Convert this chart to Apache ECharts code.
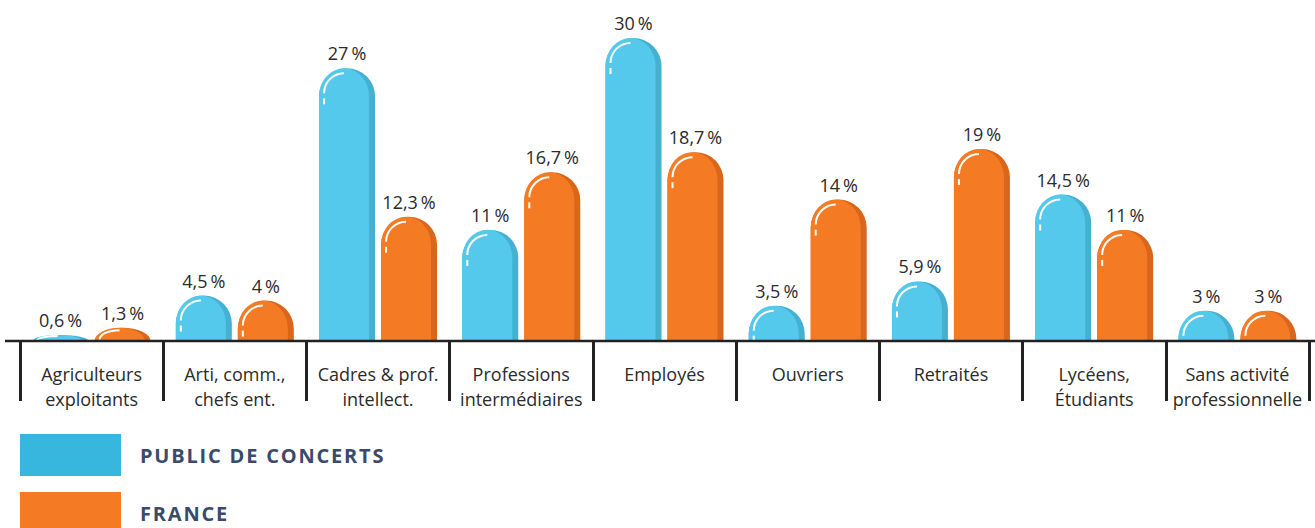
<!DOCTYPE html>
<html>
<head>
<meta charset="utf-8">
<style>
  html, body { margin: 0; padding: 0; background: #ffffff; }
  #chart { width: 1315px; height: 528px; }
</style>
<script src="https://cdn.jsdelivr.net/npm/echarts@6/dist/echarts.min.js"></script>
</head>
<body>
<div id="chart"></div>
<script>
// Catégories socioprofessionnelles
const categories = [
  'Agriculteurs\nexploitants',
  'Arti, comm.,\nchefs ent.',
  'Cadres & prof.\nintellect.',
  'Professions\nintermédiaires',
  'Employés',
  'Ouvriers',
  'Retraités',
  'Lycéens,\nÉtudiants',
  'Sans activité\nprofessionnelle'
];
const seriesNames = ['PUBLIC DE CONCERTS', 'FRANCE'];
// Parts en %
const publicConcerts = [0.6, 4.5, 27, 11, 30, 3.5, 5.9, 14.5, 3];
const france = [1.3, 4, 12.3, 16.7, 18.7, 14, 19, 11, 3];

const BAR_W = 56;
const BAR_OFFSET = 31;
const SHADE_W = 6;
const TEXT_FONT = '"Open Sans", Lato, sans-serif';

function fmt(v) {
  return String(v).replace('.', ',') + '\u2009%';
}

// Draws a rounded "pill" bar with a darker right edge and a white gloss arc
function pillRenderer(side, body, shade) {
  return function (params, api) {
    const idx = api.value(0);
    const v = api.value(1);
    const base = api.coord([idx, 0]);
    const topP = api.coord([idx, v]);
    const cx = base[0] + side * BAR_OFFSET;
    const x0 = cx - BAR_W / 2;
    const yb = base[1];
    const yt = topP[1];
    const h = yb - yt;
    const rx = BAR_W / 2;
    const ry = Math.min(h, rx);
    const w2 = BAR_W - SHADE_W;
    const outer = `M${x0},${yb} L${x0},${yt + ry} A${rx},${ry} 0 0 1 ${x0 + BAR_W},${yt + ry} L${x0 + BAR_W},${yb} Z`;
    const inner = `M${x0},${yb} L${x0},${yt + ry} A${w2 / 2},${ry} 0 0 1 ${x0 + w2},${yt + ry} L${x0 + w2},${yb} Z`;
    const k = ry / rx;
    const hcx = x0 + 25;
    const hcy = yt + 25 * k;
    const hry = 20 * k;
    const gloss = `M${hcx - 20},${hcy} A20,${hry} 0 0 1 ${hcx},${hcy - hry}`;
    const children = [
      { type: 'path', shape: { pathData: outer }, style: { fill: shade } },
      { type: 'path', shape: { pathData: inner }, style: { fill: body } },
      { type: 'path', shape: { pathData: gloss }, style: { fill: null, stroke: '#ffffff', lineWidth: 2 } }
    ];
    if (yt + 30 < yb - 1) {
      children.push({
        type: 'line',
        shape: { x1: x0 + 5, y1: yt + 30, x2: x0 + 5, y2: Math.min(yt + 36, yb - 1) },
        style: { stroke: '#ffffff', lineWidth: 2 }
      });
    }
    children.push({
      type: 'text',
      style: {
        x: cx, y: yt - 6, text: fmt(v),
        align: 'center', verticalAlign: 'bottom',
        font: '18px ' + TEXT_FONT,
        fill: '#2b2b2b'
      }
    });
    return { type: 'group', children: children };
  };
}

function legendBlock(name, color, top) {
  return {
    orient: 'vertical',
    left: 20,
    top: top,
    padding: 0,
    itemWidth: 101,
    itemHeight: 42,
    icon: 'rect',
    selectedMode: false,
    data: [{ name: name, itemStyle: { color: color } }],
    textStyle: {
      fontFamily: TEXT_FONT,
      fontWeight: 'bold',
      fontSize: 20,
      color: '#3b4a6b',
      padding: [0, 0, 0, 14]
    }
  };
}

const chart = echarts.init(document.getElementById('chart'), null, { renderer: 'svg' });
chart.setOption({
  animation: false,
  grid: { left: 20, right: 6, top: 38, bottom: 187 },
  legend: [
    legendBlock(seriesNames[0], '#37b7de', 434),
    legendBlock(seriesNames[1], '#f47b24', 492)
  ],
  xAxis: {
    type: 'category',
    data: categories,
    axisLine: { show: false },
    axisTick: { show: true, length: 60, interval: 0, lineStyle: { color: '#222222', width: 3 } },
    axisLabel: {
      interval: 0,
      margin: 20,
      fontFamily: TEXT_FONT,
      fontSize: 18,
      lineHeight: 25,
      color: '#2b2b2b'
    }
  },
  yAxis: {
    type: 'value',
    min: 0,
    max: 30,
    show: false
  },
  series: [
    {
      name: seriesNames[0],
      type: 'custom',
      itemStyle: { color: '#37b7de' },
      renderItem: pillRenderer(-1, '#55c9ec', '#46b0d0'),
      data: publicConcerts.map((v, i) => [i, v]),
      clip: false
    },
    {
      name: seriesNames[1],
      type: 'custom',
      itemStyle: { color: '#f47b24' },
      renderItem: pillRenderer(1, '#f47b24', '#d8671c'),
      data: france.map((v, i) => [i, v]),
      clip: false
    }
  ]
});

// Baseline running across the full width
const baseY = chart.convertToPixel({ yAxisIndex: 0 }, 0);
chart.setOption({
  graphic: [{
    type: 'line',
    z: 100,
    shape: { x1: 5, y1: baseY, x2: chart.getWidth(), y2: baseY },
    style: { stroke: '#222222', lineWidth: 2.5 }
  }]
});

// Tracked capitals for the legend captions
chart.getDom().querySelectorAll('text').forEach(function (t) {
  if (seriesNames.indexOf(t.textContent) >= 0) {
    t.style.letterSpacing = '1.8px';
  }
});
</script>
</body>
</html>
